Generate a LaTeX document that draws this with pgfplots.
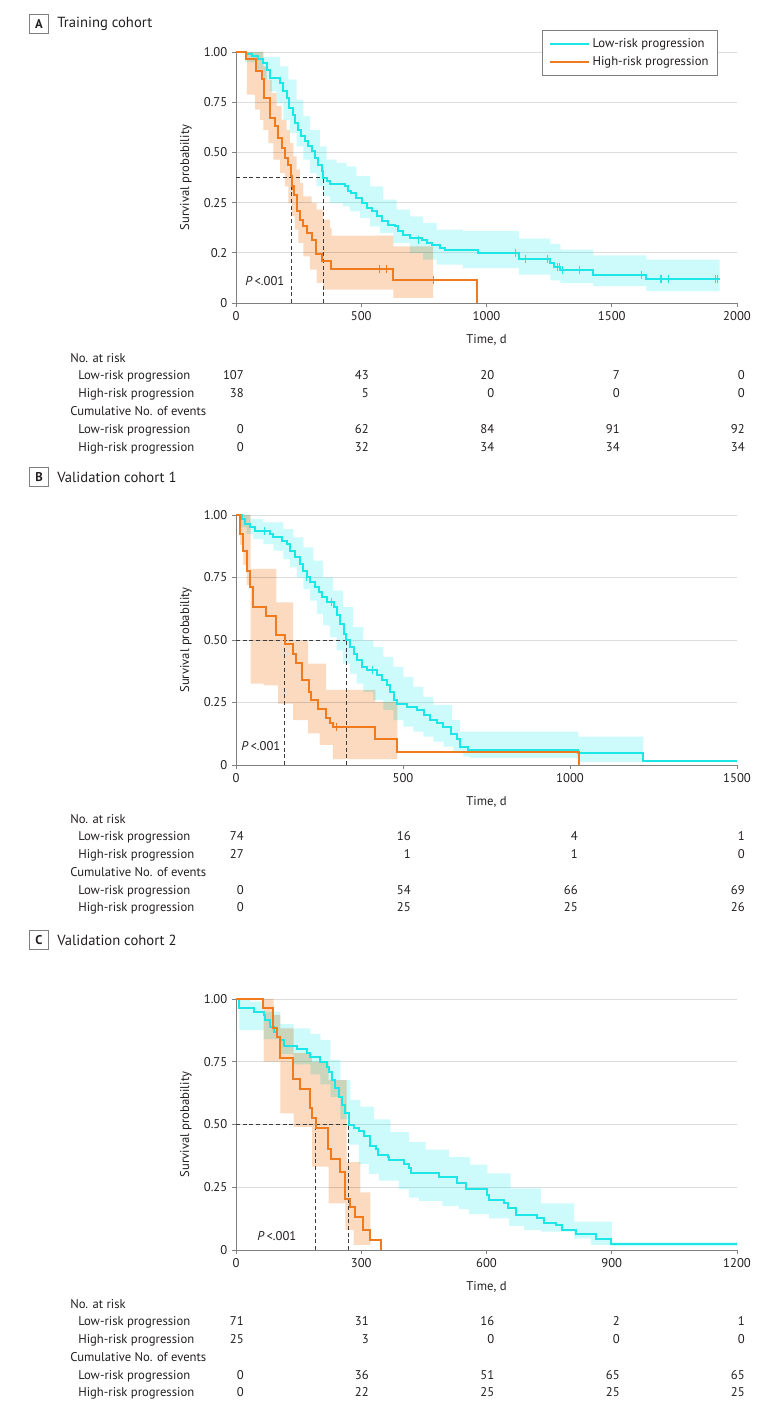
\documentclass[border=0pt]{standalone}
\usepackage{pgfplots}
\pgfplotsset{compat=1.18}
\usepackage{fontspec}
\setmainfont{PT Sans}
\definecolor{cyanl}{RGB}{28,230,230}
\definecolor{orgl}{RGB}{240,122,30}
\definecolor{gridc}{RGB}{220,220,220}
\definecolor{axc}{RGB}{128,128,128}
\definecolor{txt}{RGB}{35,31,32}
\definecolor{medc}{RGB}{60,60,60}
\newcommand\tf{\fontsize{9.5}{11}\selectfont}
\newcommand\ttl{\fontsize{11}{13}\selectfont}
\pgfplotsset{
 km/.style={
  scale only axis, width=375.75pt, anchor=south west,
  xmin=0, ymin=0, ymax=1,
  axis x line*=bottom, axis y line*=left,
  axis line style={axc, line width=0.6pt, -},
  tick align=outside, major tick length=3pt,
  tick style={axc, line width=0.6pt},
  ymajorgrids, grid style={gridc, line width=0.6pt},
  ticklabel style={font=\tf, text=txt},
  xlabel={Time, d}, ylabel={Survival probability},
  every axis x label/.style={at={(axis description cs:0.5,-0.148)}, anchor=center, font=\tf, text=txt},
  every axis y label/.style={at={(axis description cs:-0.0998,0.5)}, anchor=center, rotate=90, font=\tf, text=txt},
 },
 cline/.style={cyanl, line width=1.5pt, const plot, forget plot},
 oline/.style={orgl, line width=1.5pt, const plot, forget plot},
 cfill/.style={const plot, fill=cyanl, fill opacity=0.22, draw=none, forget plot},
 ofill/.style={const plot, fill=orgl, fill opacity=0.28, draw=none, forget plot, blend mode=multiply},
 cens/.style={only marks, mark=|, mark size=3pt, mark options={line width=0.8pt}, forget plot},
 med/.style={medc, line width=0.6pt, dash pattern=on 3pt off 2pt, forget plot},
}
\begin{document}
\begin{tikzpicture}
\path[use as bounding box] (0,0) rectangle (587.25pt,1059pt);
% ---------------- Panel A
\begin{axis}[km, at={(177pt,831.75pt)}, height=188.25pt, xmax=2000,
  xtick={0,500,1000,1500,2000}, xticklabels={0,500,1000,1500,2000},
  ytick={0,0.2,0.4,0.6,0.8,1}, yticklabels={0,0.2,0.25,0.50,0.75,1.00},
  legend style={at={(0.962,1.088)}, anchor=north east, draw=axc, line width=0.6pt, fill=white,
    font=\tf, text=txt, inner xsep=5pt, inner ysep=4.5pt, row sep=1.5pt, nodes={inner sep=1.8pt}, cells={anchor=west}},
  legend image code/.code={\draw[#1] (0pt,0pt) -- (29pt,0pt);}]
\addplot[cfill] coordinates {(0,1) (109,0.98) (176,0.943) (209,0.89) (242,0.81) (269,0.744) (295,0.69) (335,0.624) (362,0.571) (402,0.558) (442,0.544) (481,0.505) (535,0.465) (588,0.412) (641,0.372) (694,0.345) (747,0.319) (801,0.292) (907,0.286) (1129,0.256) (1255,0.235) (1295,0.213) (1426,0.19) (1638,0.173) (1931,0.173)
 (1931,0.047) (1638,0.067) (1426,0.08) (1295,0.09) (1255,0.113) (1129,0.139) (907,0.153) (801,0.173) (747,0.199) (694,0.239) (628,0.279) (574,0.305) (535,0.339) (495,0.365) (455,0.385) (428,0.398) (375,0.425) (348,0.465) (322,0.518) (295,0.571) (269,0.624) (242,0.677) (215,0.73) (189,0.797) (162,0.843) (136,0.89) (109,0.93) (82,0.96) (36,1) (0,1)};
\addplot[ofill] coordinates {(0,1) (109,0.943) (122,0.89) (142,0.837) (162,0.784) (182,0.73) (202,0.69) (215,0.637) (229,0.584) (242,0.531) (255,0.478) (269,0.425) (302,0.398) (322,0.372) (348,0.332) (375,0.299) (382,0.268) (628,0.226) (787,0.226)
 (787,0.02) (628,0.053) (348,0.08) (322,0.133) (295,0.186) (269,0.239) (249,0.292) (235,0.345) (222,0.398) (209,0.465) (195,0.518) (176,0.571) (149,0.637) (129,0.69) (109,0.73) (96,0.77) (76,0.83) (43,1) (0,1)};
\addplot[med] coordinates {(0,0.5) (348,0.5)};
\addplot[med] coordinates {(222,0) (222,0.5)};
\addplot[med] coordinates {(348,0) (348,0.5)};
\addplot[cline] coordinates {(0,1) (40,0.993) (62,0.983) (89,0.972) (109,0.956) (122,0.930) (136,0.896) (176,0.876) (189,0.843) (202,0.817) (213,0.777) (226,0.750) (235,0.717) (249,0.691) (258,0.664) (275,0.644) (289,0.624) (302,0.604) (315,0.578) (328,0.551) (342,0.525) (348,0.498) (362,0.485) (375,0.475) (435,0.465) (448,0.445) (461,0.438) (481,0.418) (501,0.398) (521,0.378) (541,0.365) (561,0.345) (581,0.325) (608,0.312) (634,0.305) (648,0.286) (668,0.272) (694,0.259) (741,0.252) (761,0.239) (781,0.232) (814,0.219) (834,0.210) (967,0.200) (1129,0.177) (1255,0.160) (1271,0.144) (1295,0.131) (1426,0.113) (1638,0.096) (1931,0.096)};
\addplot[cens, cyanl] coordinates {(727,0.252) (1116,0.2) (1156,0.177) (1242,0.177) (1285,0.144) (1292,0.144) (1302,0.131) (1371,0.131) (1618,0.113) (1694,0.096) (1698,0.096) (1727,0.096) (1914,0.096) (1923,0.096)};
\addplot[oline] coordinates {(0,1) (40,0.972) (80,0.923) (102,0.892) (113,0.817) (136,0.737) (156,0.704) (169,0.657) (185,0.618) (195,0.578) (209,0.551) (218,0.505) (225,0.465) (231,0.432) (245,0.365) (255,0.332) (269,0.305) (285,0.279) (302,0.250) (319,0.197) (342,0.166) (378,0.137) (628,0.093) (963,0)};
\addplot[cens, orgl] coordinates {(225,0.465) (572,0.137) (601,0.137) (787,0.093)};
\addlegendimage{cyanl, line width=1.5pt}\addlegendentry{Low-risk progression}
\addlegendimage{orgl, line width=1.5pt}\addlegendentry{High-risk progression}
\end{axis}
% ---------------- Panel B
\begin{axis}[km, at={(177pt,485.25pt)}, height=187.5pt, xmax=1500,
  xtick={0,500,1000,1500}, xticklabels={0,500,1000,1500},
  ytick={0,0.25,0.5,0.75,1}, yticklabels={0,0.25,0.50,0.75,1.00}]
\addplot[cfill] coordinates {(0,1) (42,0.983) (82,0.97) (142,0.943) (172,0.91) (202,0.87) (232,0.817) (261,0.75) (291,0.697) (321,0.631) (351,0.551) (381,0.498) (411,0.471) (441,0.432) (471,0.392) (501,0.352) (531,0.312) (561,0.272) (591,0.24) (646,0.18) (671,0.133) (1025,0.113) (1220,0.113)
 (1220,0.012) (1025,0.028) (700,0.033) (681,0.053) (651,0.073) (621,0.093) (591,0.113) (561,0.133) (531,0.153) (501,0.179) (471,0.219) (441,0.259) (411,0.292) (381,0.325) (361,0.365) (341,0.405) (321,0.458) (301,0.511) (281,0.558) (261,0.604) (242,0.657) (222,0.704) (202,0.75) (182,0.79) (162,0.823) (142,0.857) (112,0.883) (82,0.903) (52,0.923) (32,0.95) (12,1) (0,1)};
\addplot[ofill] coordinates {(0,1) (44,0.784) (121,0.65) (171,0.498) (216,0.405) (270,0.30) (417,0.252) (483,0.252)
 (483,0.023) (290,0.08) (250,0.126) (216,0.179) (171,0.245) (126,0.318) (83,0.325) (44,0.72) (32,0.80) (22,0.88) (12,1) (0,1)};
\addplot[med] coordinates {(0,0.5) (330,0.5)};
\addplot[med] coordinates {(146,0) (146,0.5)};
\addplot[med] coordinates {(330,0) (330,0.5)};
\addplot[cline] coordinates {(0,1) (17,0.983) (27,0.963) (42,0.950) (57,0.936) (102,0.923) (112,0.910) (137,0.894) (152,0.883) (162,0.857) (177,0.830) (192,0.803) (202,0.777) (214,0.753) (222,0.730) (237,0.710) (247,0.690) (257,0.671) (272,0.650) (292,0.631) (302,0.598) (312,0.564) (322,0.525) (330,0.498) (342,0.471) (352,0.445) (362,0.418) (377,0.392) (392,0.378) (422,0.359) (437,0.339) (452,0.319) (462,0.292) (472,0.259) (482,0.243) (512,0.232) (542,0.219) (562,0.199) (582,0.179) (602,0.166) (620,0.151) (645,0.123) (661,0.103) (671,0.073) (696,0.060) (1024,0.047) (1219,0.017) (1500,0.017)};
\addplot[cens, cyanl] coordinates {(86,0.936) (212,0.753) (285,0.650) (409,0.378)};
\addplot[oline] coordinates {(0,1) (12,0.923) (22,0.857) (32,0.777) (42,0.710) (52,0.631) (89,0.594) (121,0.518) (146,0.485) (171,0.445) (181,0.408) (198,0.339) (218,0.292) (225,0.259) (245,0.222) (270,0.186) (280,0.169) (290,0.153) (417,0.102) (483,0.050) (1028,0)};
\addplot[cens, orgl] coordinates {(302,0.153)};
\end{axis}
% ---------------- Panel C
\begin{axis}[km, at={(177pt,121.5pt)}, height=188.25pt, xmax=1200,
  xtick={0,300,600,900,1200}, xticklabels={0,300,600,900,1200},
  ytick={0,0.25,0.5,0.75,1}, yticklabels={0,0.25,0.50,0.75,1.00}]
\addplot[cfill] coordinates {(0,1) (34,0.99) (66,0.95) (106,0.9) (138,0.883) (178,0.86) (202,0.837) (226,0.757) (250,0.677) (274,0.598) (298,0.571) (330,0.52) (370,0.47) (414,0.43) (454,0.40) (510,0.37) (560,0.34) (602,0.305) (658,0.246) (730,0.186) (810,0.113) (900,0.03) (1200,0.03)
 (1200,0.015) (900,0.02) (850,0.046) (810,0.073) (730,0.08) (690,0.096) (654,0.126) (606,0.143) (558,0.163) (534,0.176) (494,0.196) (438,0.209) (414,0.243) (390,0.276) (342,0.303) (318,0.343) (294,0.42) (270,0.52) (250,0.61) (226,0.66) (202,0.70) (178,0.74) (138,0.78) (106,0.84) (66,0.876) (8,1) (0,1)};
\addplot[ofill] coordinates {(0,1) (90,0.936) (106,0.883) (138,0.784) (182,0.75) (222,0.677) (265,0.35) (298,0.23) (322,0.23)
 (322,0.02) (282,0.08) (262,0.186) (222,0.332) (182,0.491) (138,0.544) (106,0.75) (66,1) (0,1)};
\addplot[med] coordinates {(0,0.5) (270,0.5)};
\addplot[med] coordinates {(191,0) (191,0.5)};
\addplot[med] coordinates {(270,0) (270,0.5)};
\addplot[cline] coordinates {(0,1) (8,0.963) (42,0.950) (66,0.936) (70,0.916) (82,0.890) (90,0.870) (98,0.850) (106,0.837) (114,0.813) (146,0.800) (170,0.784) (178,0.768) (202,0.750) (218,0.730) (222,0.710) (230,0.677) (238,0.644) (246,0.611) (254,0.578) (262,0.544) (270,0.498) (282,0.485) (294,0.473) (307,0.456) (321,0.416) (335,0.403) (341,0.380) (363,0.369) (367,0.359) (402,0.343) (414,0.327) (418,0.305) (486,0.289) (530,0.268) (550,0.245) (600,0.221) (606,0.199) (643,0.186) (651,0.166) (670,0.139) (722,0.126) (738,0.109) (766,0.100) (782,0.080) (814,0.064) (862,0.042) (899,0.024) (1200,0.024)};
\addplot[oline] coordinates {(0,1) (65,0.963) (89,0.883) (97,0.850) (105,0.764) (137,0.680) (153,0.640) (177,0.564) (181,0.525) (191,0.485) (220,0.401) (228,0.361) (248,0.312) (260,0.202) (272,0.173) (284,0.133) (304,0.080) (320,0.040) (348,0)};
\end{axis}
% ---------------- Text
\begin{scope}[x=0.75pt, y=0.75pt,
  lab/.style={anchor=west, inner sep=0pt, text height=7pt, text depth=2pt, font=\tf, text=txt},
  num/.style={anchor=east, inner sep=0pt, text height=7pt, text depth=2pt, font=\tf, text=txt},
  box/.style={draw=axc, line width=0.6pt, minimum width=14.5pt, minimum height=14.5pt, inner sep=0pt, font=\tf\bfseries, text=txt}]
\node[box] at (39,1388) {A};
\node[anchor=west, inner sep=0pt, font=\ttl, text=txt] at (57,1388) {Training cohort};
\node[box] at (39,935) {B};
\node[anchor=west, inner sep=0pt, font=\ttl, text=txt] at (57,935) {Validation cohort 1};
\node[box] at (39,472) {C};
\node[anchor=west, inner sep=0pt, font=\ttl, text=txt] at (57,472) {Validation cohort 2};
\node[lab] at (245,1130) {\textit{P}\,<.001};
\node[lab] at (241,665) {\textit{P}\,<.001};
\node[lab] at (257,175) {\textit{P}\,<.001};
% table A
\node[lab] at (70,1053) {No. at risk};
\node[lab] at (78,1036) {Low-risk progression};
\node[lab] at (78,1018) {High-risk progression};
\node[lab] at (70,1000) {Cumulative No. of events};
\node[lab] at (78,982) {Low-risk progression};
\node[lab] at (78,964) {High-risk progression};
\foreach \x/\a/\b/\c/\d in {244/107/38/0/0, 369/43/5/62/32, 494.5/20/0/84/34, 620/7/0/91/34, 745/0/0/92/34}{
  \node[num] at (\x,1036) {\a};
  \node[num] at (\x,1018) {\b};
  \node[num] at (\x,982) {\c};
  \node[num] at (\x,964) {\d};
}
% table B
\node[lab] at (70,592) {No. at risk};
\node[lab] at (78,575) {Low-risk progression};
\node[lab] at (78,557) {High-risk progression};
\node[lab] at (70,539) {Cumulative No. of events};
\node[lab] at (78,521) {Low-risk progression};
\node[lab] at (78,504) {High-risk progression};
\foreach \x/\a/\b/\c/\d in {244/74/27/0/0, 411/16/1/54/25, 578/4/1/66/25, 745/1/0/69/26}{
  \node[num] at (\x,575) {\a};
  \node[num] at (\x,557) {\b};
  \node[num] at (\x,521) {\c};
  \node[num] at (\x,504) {\d};
}
% table C
\node[lab] at (70,107) {No. at risk};
\node[lab] at (78,90) {Low-risk progression};
\node[lab] at (78,72) {High-risk progression};
\node[lab] at (70,54) {Cumulative No. of events};
\node[lab] at (78,36) {Low-risk progression};
\node[lab] at (78,19) {High-risk progression};
\foreach \x/\a/\b/\c/\d in {244/71/25/0/0, 369/31/3/36/22, 494.5/16/0/51/25, 620/2/0/65/25, 745/1/0/65/25}{
  \node[num] at (\x,90) {\a};
  \node[num] at (\x,72) {\b};
  \node[num] at (\x,36) {\c};
  \node[num] at (\x,19) {\d};
}
\end{scope}
\end{tikzpicture}
\end{document}
